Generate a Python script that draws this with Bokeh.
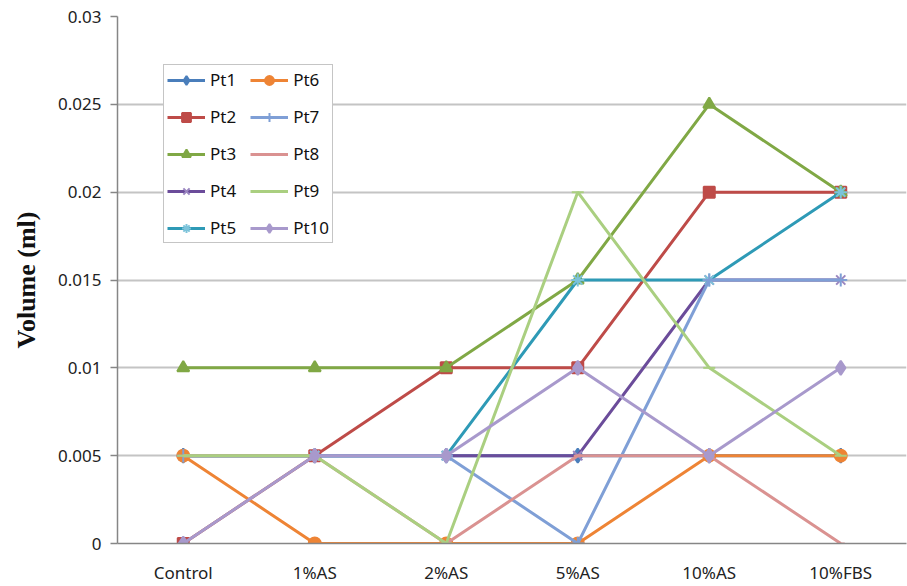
from bokeh.plotting import figure
from bokeh.models import FactorRange, Range1d, FixedTicker, Legend, LegendItem
from bokeh.embed import file_html
from bokeh.resources import INLINE

# Treatment groups along the x axis
categories = ["Control", "1%AS", "2%AS", "5%AS", "10%AS", "10%FBS"]

# Volume (ml) per patient
pt1 = [0.005, 0.005, 0.005, 0.005, 0.005, 0.005]
pt2 = [0.0, 0.005, 0.01, 0.01, 0.02, 0.02]
pt3 = [0.01, 0.01, 0.01, 0.015, 0.025, 0.02]
pt4 = [0.005, 0.005, 0.005, 0.005, 0.015, 0.015]
pt5 = [0.005, 0.005, 0.005, 0.015, 0.015, 0.02]
pt6 = [0.005, 0.0, 0.0, 0.0, 0.005, 0.005]
pt7 = [0.005, 0.005, 0.005, 0.0, 0.015, 0.015]
pt8 = [0.005, 0.005, 0.0, 0.005, 0.005, 0.0]
pt9 = [0.005, 0.005, 0.0, 0.02, 0.01, 0.005]
pt10 = [0.0, 0.005, 0.005, 0.01, 0.005, 0.01]

series_names = ["Pt1", "Pt2", "Pt3", "Pt4", "Pt5", "Pt6", "Pt7", "Pt8", "Pt9", "Pt10"]
series_values = [pt1, pt2, pt3, pt4, pt5, pt6, pt7, pt8, pt9, pt10]

y_ticks = [0.0, 0.005, 0.01, 0.015, 0.02, 0.025, 0.03]
y_tick_labels = ["0", "0.005", "0.01", "0.015", "0.02", "0.025", "0.03"]

# Line colour, marker shape, marker size, marker colour
styles = [
    ("#4A7EBB", "diamond", 14, "#4A7EBB"),
    ("#BE4B48", "square", 11, "#BE4B48"),
    ("#80A845", "triangle", 12, "#80A845"),
    ("#6B4C9A", "x", 13, "#9A86C0"),
    ("#2E9AB6", "asterisk", 13, "#7CC3DA"),
    ("#EE8435", "circle", 12, "#EE8435"),
    ("#7F9FD6", "cross", 13, "#7F9FD6"),
    ("#DA9291", "dash", 8, "#DA9291"),
    ("#AACF80", "dash", 12, "#AACF80"),
    ("#A899CC", "diamond", 14, "#A899CC"),
]

p = figure(
    x_range=FactorRange(*categories),
    y_range=Range1d(0, 0.03),
    width=907, height=586,
    min_border_left=117, min_border_right=1,
    min_border_top=16, min_border_bottom=43,
    output_backend="svg", toolbar_location=None,
)
p.outline_line_color = None
p.background_fill_color = "white"
p.border_fill_color = "white"

p.xgrid.visible = False
p.ygrid.grid_line_color = "#C4C4C4"
p.ygrid.grid_line_width = 2

# y axis
p.yaxis.ticker = FixedTicker(ticks=y_ticks)
p.yaxis.major_label_overrides = dict(zip(y_ticks, y_tick_labels))
p.yaxis.minor_tick_line_color = None
p.yaxis.major_tick_in = 0
p.yaxis.major_tick_out = 7
p.yaxis.major_tick_line_color = "#868686"
p.yaxis.major_tick_line_width = 1.5
p.yaxis.axis_line_color = "#868686"
p.yaxis.axis_line_width = 1.5
p.yaxis.major_label_standoff = 9
p.yaxis.major_label_text_font = "Noto Sans"
p.yaxis.major_label_text_font_size = "17px"
p.yaxis.major_label_text_color = "#222222"
p.yaxis.axis_label = "Volume (ml)"
p.yaxis.axis_label_text_font = "Liberation Serif"
p.yaxis.axis_label_text_font_style = "bold"
p.yaxis.axis_label_text_font_size = "26px"
p.yaxis.axis_label_text_color = "#111111"
p.yaxis.axis_label_standoff = 14

# x axis
p.xaxis.major_tick_line_color = None
p.xaxis.minor_tick_line_color = None
p.xaxis.axis_line_color = "#868686"
p.xaxis.axis_line_width = 1.5
p.xaxis.major_label_standoff = 11
p.xaxis.major_label_text_font = "Noto Sans"
p.xaxis.major_label_text_font_size = "17px"
p.xaxis.major_label_text_color = "#222222"

items = []
for name, vals, (lc, marker, size, mc) in zip(series_names, series_values, styles):
    ln = p.line(categories, vals, line_color=lc, line_width=3)
    mk = p.scatter(categories, vals, marker=marker, size=size,
                   fill_color=mc, line_color=mc, line_width=2)
    items.append(LegendItem(label=name, renderers=[ln, mk]))

legend = Legend(
    items=items,
    location=(46, 300),
    nrows=5,
    glyph_width=38, glyph_height=22,
    label_standoff=5, spacing=14, padding=3, margin=0,
    label_text_font="Noto Sans", label_text_font_size="17px",
    label_text_color="#111111",
    border_line_color="#8C8C8C", border_line_width=1,
    background_fill_color="white", background_fill_alpha=1,
)
p.add_layout(legend)

open("out.html", "w").write(file_html(p, INLINE))
